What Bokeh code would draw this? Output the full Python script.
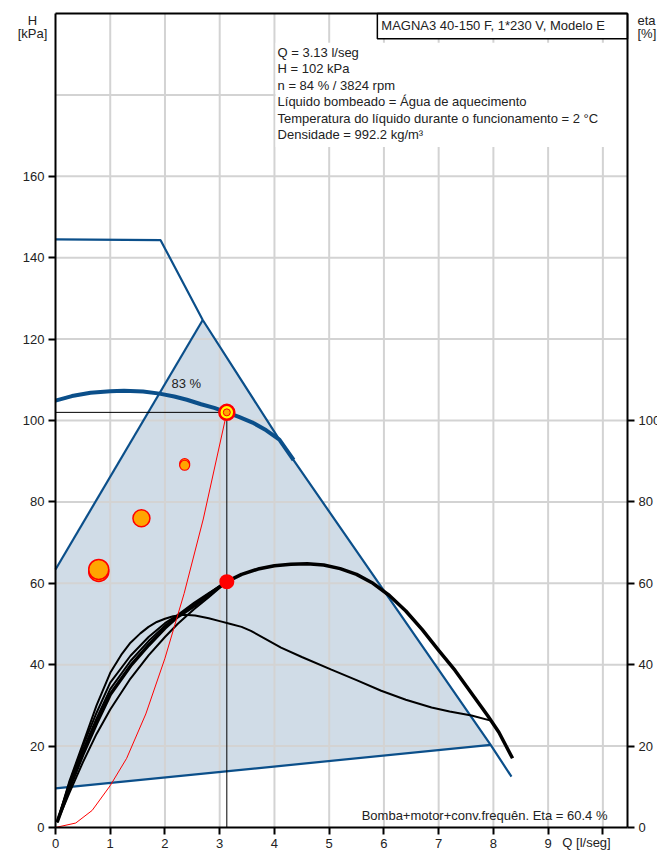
from bokeh.plotting import figure
from bokeh.models import Range1d, LinearAxis, FixedTicker, Label
from bokeh.embed import file_html
from bokeh.resources import INLINE

# ---------------- data ----------------
x_ticks = [0, 1, 2, 3, 4, 5, 6, 7, 8, 9, 10]
x_grid = [1, 2, 3, 4, 5, 6, 7, 8, 9, 10]
h_ticks = [0, 20, 40, 60, 80, 100, 120, 140, 160]
h_grid = [20, 40, 60, 80, 100, 120, 140, 160, 180]
eta_ticks = [0, 20, 40, 60, 80, 100]

# max speed limit curve
limit_q = [0, 1.92, 2.69, 4.09, 7.95, 8.33]
limit_h = [144.5, 144.3, 124.7, 95.3, 20.3, 12.5]
# operating area (shaded)
area_q = [0, 2.69, 4.09, 7.95, 0]
area_h = [63.4, 124.7, 95.3, 20.3, 9.6]
minline_q = [0, 7.95]
minline_h = [9.6, 20.3]
leftline_q = [0, 2.69]
leftline_h = [63.4, 124.7]

# pump curve at current speed
pump_q = [0, 0.3, 0.64, 1.0, 1.25, 1.6, 1.9, 2.17, 2.4, 2.66, 2.9, 3.13, 3.35, 3.6, 3.85, 4.09, 4.35]
pump_h = [104.9, 106.0, 106.8, 107.2, 107.3, 107.1, 106.6, 105.9, 105.1, 104.0, 103.1, 102.0,
          100.9, 99.5, 97.6, 95.3, 90.3]

# system curve
system_q = [0, 0.37, 0.67, 1.0, 1.3, 1.65, 2.0, 2.35, 2.7, 3.13]
system_h = [0, 1.1, 4.2, 10.3, 17.0, 27.9, 41.6, 57.5, 75.8, 102.0]

# efficiency curves
eta_a_q = [0.03, 0.25, 0.52, 0.75, 1.0, 1.2, 1.37, 1.55, 1.7, 1.85, 2.0, 2.15, 2.35, 2.55, 2.8,
           3.0, 3.2, 3.4, 3.57, 3.8, 4.12, 4.5, 5.04, 5.5, 5.95, 6.4, 6.87, 7.2, 7.6, 7.97]
eta_a = [1.3, 11.2, 21.3, 30.0, 38.0, 42.4, 45.4, 47.7, 49.3, 50.5, 51.3, 51.9, 52.3, 52.1, 51.4,
         50.7, 50.0, 49.3, 48.3, 46.6, 44.2, 41.9, 38.8, 36.2, 33.6, 31.4, 29.5, 28.5, 27.5, 26.2]
eta_rise_q = [0.03, 0.25, 0.5, 0.75, 1.0, 1.37, 1.7, 2.0, 2.23, 2.53, 2.8, 3.13]
eta_b = [1.3, 10.8, 20.0, 28.2, 35.6, 42.2, 46.8, 50.2, 52.2, 55.2, 57.6, 60.4]
eta_c = [1.3, 10.2, 19.0, 26.8, 34.0, 40.9, 45.8, 49.6, 52.0, 54.8, 57.4, 60.4]
eta_e = [1.3, 8.4, 16.0, 23.0, 29.0, 36.6, 42.3, 46.8, 50.0, 53.6, 56.6, 60.4]
eta_main_q = [0.03, 0.25, 0.5, 0.75, 1.0, 1.37, 1.7, 2.0, 2.23, 2.53, 2.8, 3.13, 3.4, 3.7, 4.0,
              4.3, 4.6, 4.9, 5.2, 5.5, 5.8, 6.1, 6.4, 6.7, 7.0, 7.3, 7.6, 7.9, 8.1, 8.35]
eta_main = [1.3, 9.6, 18.0, 25.6, 32.7, 39.7, 44.8, 49.0, 51.8, 54.4, 57.2, 60.4, 62.2, 63.5, 64.3,
            64.7, 64.8, 64.5, 63.6, 62.2, 60.0, 57.0, 53.2, 48.6, 43.5, 38.6, 33.0, 27.4, 23.4, 17.0]

# duty point
q_op = 3.13
h_op = 102.0
eta_op = 60.4

# other markers
marker_q = [0.79, 1.57, 2.36]
marker_h = [63.4, 76.0, 89.0]

info_lines = [
    "Q = 3.13 l/seg",
    "H = 102 kPa",
    "n = 84 % / 3824 rpm",
    "Líquido bombeado = Água de aquecimento",
    "Temperatura do líquido durante o funcionamento = 2 °C",
    "Densidade = 992.2 kg/m³",
]
title_text = "MAGNA3 40-150 F, 1*230 V, Modelo E"
eff_text = "Bomba+motor+conv.frequên. Eta = 60.4 %"
eff_label = "83 %"

# ---------------- style / layout ----------------
BLUE = "#0b4f8a"
SHADE = "#d0dce7"
GRID = "#d3d3d3"
FONT = "Liberation Sans"
FS = "13px"
TXT = "#222222"

W, H = 657, 850
XMAX = 10.45
YMAX = 200
PX_L, PX_R, PX_T, PX_B = 55, 627, 13, 827
xu = (PX_R - PX_L) / XMAX
yu = (PX_B - PX_T) / YMAX

p = figure(width=W, height=H,
           x_range=Range1d(-PX_L / xu, (W - PX_L) / xu),
           y_range=Range1d(-(H - PX_B) / yu, PX_B / yu),
           x_axis_type=None, y_axis_type=None,
           output_backend="svg", toolbar_location=None, title=None,
           min_border=0, min_border_left=0, min_border_right=0,
           min_border_top=0, min_border_bottom=0)
p.background_fill_color = "white"
p.border_fill_color = "white"
p.outline_line_color = None

xax = LinearAxis(fixed_location=0, bounds=(0, XMAX), ticker=FixedTicker(ticks=x_ticks),
                 major_label_overrides={10: ""})
yax = LinearAxis(fixed_location=0, bounds=(0, YMAX), ticker=FixedTicker(ticks=h_ticks))
rax = LinearAxis(fixed_location=XMAX, bounds=(0, YMAX), ticker=FixedTicker(ticks=eta_ticks))
p.add_layout(xax, "below")
p.add_layout(yax, "left")
p.add_layout(rax, "right")

for ax in (xax, yax, rax):
    ax.axis_line_width = 2
    ax.axis_line_color = "black"
    ax.major_tick_line_width = 2
    ax.major_tick_line_color = "black"
    ax.major_tick_out = 7
    ax.major_tick_in = 0
    ax.minor_tick_out = 0
    ax.minor_tick_in = 0
    ax.major_label_text_font = FONT
    ax.major_label_text_font_size = FS
    ax.major_label_text_color = TXT
    ax.major_label_standoff = 4

# shaded operating area (under grid)
p.patch(area_q, area_h, fill_color=SHADE, line_color=None, level="image")

# grid lines
p.segment(x0=x_grid, y0=[0] * len(x_grid), x1=x_grid, y1=[YMAX] * len(x_grid),
          line_color=GRID, line_width=2, level="underlay")
p.segment(x0=[0] * len(h_grid), y0=h_grid, x1=[XMAX] * len(h_grid), y1=h_grid,
          line_color=GRID, line_width=2, level="underlay")

# white boxes (info and title) above grid
p.quad(left=[4.02], right=[XMAX], bottom=[167.2], top=[192.8], fill_color="white", line_color=None)
p.quad(left=[5.88], right=[XMAX], bottom=[193.8], top=[YMAX], fill_color="white",
       line_color="black", line_width=1.5)

# top border of the chart frame
p.segment(x0=[0], y0=[YMAX], x1=[XMAX], y1=[YMAX], line_color="black", line_width=2)

# blue limit lines
p.line(limit_q, limit_h, line_color=BLUE, line_width=2.2)
p.line(minline_q, minline_h, line_color=BLUE, line_width=2.2)
p.line(leftline_q, leftline_h, line_color=BLUE, line_width=2.2)
p.line(pump_q, pump_h, line_color=BLUE, line_width=4)

# efficiency curves
p.line(eta_a_q, eta_a, line_color="black", line_width=2)
p.line(eta_rise_q, eta_b, line_color="black", line_width=2)
p.line(eta_rise_q, eta_c, line_color="black", line_width=2)
p.line(eta_rise_q, eta_e, line_color="black", line_width=2)
p.line(eta_main_q, eta_main, line_color="black", line_width=3.5)

# system curve
p.line(system_q, system_h, line_color="red", line_width=1)

# duty point cross lines
p.segment(x0=[0, q_op], y0=[h_op, h_op], x1=[q_op, q_op], y1=[h_op, 0],
          line_color="black", line_width=1)

# orange markers
p.scatter([marker_q[0]], [marker_h[0] - 0.5], size=20, fill_color="#ffa500",
          line_color="red", line_width=1.5)
p.scatter([marker_q[0]], [marker_h[0]], size=20, fill_color="#ffa500",
          line_color="red", line_width=1.5)
p.scatter([marker_q[1]], [marker_h[1]], size=17, fill_color="#ffa500",
          line_color="red", line_width=1.5)
p.scatter([marker_q[2]], [marker_h[2] + 0.4], size=10, fill_color="#ffa500",
          line_color="red", line_width=1.2)
p.scatter([marker_q[2]], [marker_h[2]], size=10, fill_color="#ffa500",
          line_color="red", line_width=1.2)

# efficiency duty point
p.scatter([q_op], [eta_op], size=15, fill_color="red", line_color=None)
# duty point
p.scatter([q_op], [h_op], size=15, fill_color="yellow", line_color="red", line_width=2.5)
p.scatter([q_op], [h_op], size=7, fill_color="#ffa500", line_color="red", line_width=1)

# ---------------- texts ----------------
def lab(**kw):
    kw.setdefault("text_font", FONT)
    kw.setdefault("text_font_size", FS)
    kw.setdefault("text_color", TXT)
    p.add_layout(Label(**kw))

lab(x=5.88, y=YMAX, x_offset=4, y_offset=-12, text=title_text,
    text_align="left", text_baseline="middle")
for i, t in enumerate(info_lines):
    lab(x=4.02, y=YMAX, x_offset=2, y_offset=-(38.5 + 16.5 * i), text=t,
        text_align="left", text_baseline="middle")
lab(x=2.39, y=109.0, text=eff_label, text_align="center", text_baseline="middle")
lab(x=XMAX, y=0, x_offset=-20, y_offset=12, text=eff_text,
    text_align="right", text_baseline="middle")

# axis titles
lab(x=0, y=YMAX, x_offset=-23, y_offset=-7, text="H", text_align="center", text_baseline="middle")
lab(x=0, y=YMAX, x_offset=-23, y_offset=-20, text="[kPa]", text_align="center", text_baseline="middle")
lab(x=XMAX, y=YMAX, x_offset=10, y_offset=-7, text="eta", text_align="left", text_baseline="middle")
lab(x=XMAX, y=YMAX, x_offset=10, y_offset=-20, text="[%]", text_align="left", text_baseline="middle")
lab(x=XMAX, y=0, x_offset=-41, y_offset=-15, text="Q [l/seg]", text_align="center",
    text_baseline="middle")

open("out.html", "w").write(file_html(p, INLINE))
